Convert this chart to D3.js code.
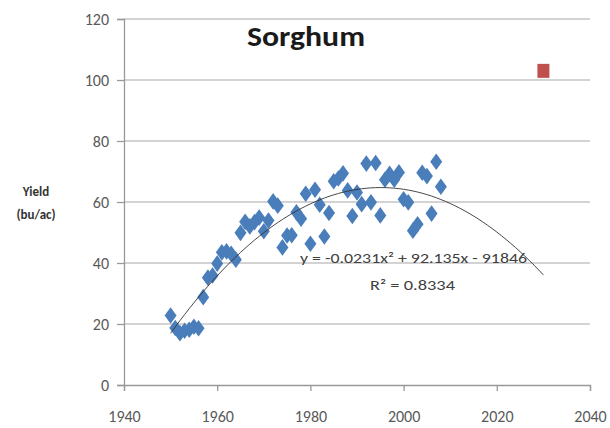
<!DOCTYPE html>
<html>
<head>
<meta charset="utf-8">
<script src="https://cdn.jsdelivr.net/npm/d3@7"></script>
<style>
  body { margin: 0; background: #fff; }
  text { font-family: Carlito, Lato, "Liberation Sans", Arial, sans-serif; }
</style>
</head>
<body>
<div id="chart"></div>
<script>
// Sorghum yields, bu/ac
var years = [1950,1951,1952,1953,1954,1955,1956,1957,1958,1959,
             1960,1961,1962,1963,1964,1965,1966,1967,1968,1969,
             1970,1971,1972,1973,1974,1975,1976,1977,1978,1979,
             1980,1981,1982,1983,1984,1985,1986,1987,1988,1989,
             1990,1991,1992,1993,1994,1995,1996,1997,1998,1999,
             2000,2001,2002,2003,2004,2005,2006,2007,2008];
var yields = [22.8,18.7,17.0,17.8,18.1,19.1,18.6,28.8,35.2,35.9,
              39.8,43.5,43.8,43.0,41.1,49.9,53.5,52.0,53.4,54.9,
              50.4,53.9,60.2,58.8,45.1,49.0,49.1,56.6,54.5,62.7,
              46.3,64.0,59.1,48.7,56.4,66.8,67.7,69.4,63.8,55.4,
              63.1,59.3,72.6,59.9,72.8,55.6,67.3,69.2,67.3,69.7,
              60.9,59.9,50.6,52.7,69.6,68.5,56.2,73.2,65.0];
var projYears = [2030];
var projYields = [103];
var xTicks = [1940,1960,1980,2000,2020,2040];
var yTicks = [0,20,40,60,80,100,120];

var w = 610, h = 428;
var x = d3.scaleLinear().domain([1940, 2040]).range([124, 590]);
var y = d3.scaleLinear().domain([0, 120]).range([385, 19]);

var svg = d3.select("#chart").append("svg")
    .attr("width", w).attr("height", h);

// gridlines
svg.append("g").selectAll("line")
    .data(yTicks.slice(1)).enter().append("line")
    .attr("x1", x(1940)).attr("x2", x(2040))
    .attr("y1", function(d) { return y(d); })
    .attr("y2", function(d) { return y(d); })
    .attr("stroke", "#c4c4c4").attr("stroke-width", 1.3);

// axes
var yAxis = d3.axisLeft(y).tickValues(yTicks).tickSize(7).tickPadding(8);
var xAxis = d3.axisBottom(x).tickValues(xTicks).tickSize(6).tickFormat(d3.format("d")).tickPadding(20);

var gy = svg.append("g").attr("transform", "translate(" + x(1940) + ",0)").call(yAxis);
var gx = svg.append("g").attr("transform", "translate(0," + y(0) + ")").call(xAxis);
[gx, gy].forEach(function(g) {
  g.select(".domain").attr("stroke", "#999").attr("stroke-width", 1.3);
  g.selectAll(".tick line").attr("stroke", "#999").attr("stroke-width", 1.3);
  g.selectAll(".tick text").attr("fill", "#595959")
    .style("font-family", "Carlito, Lato, 'Liberation Sans', Arial, sans-serif")
    .style("font-size", "16px");
});

// quadratic least-squares trend from the data (centered years)
var n = years.length, S = [0,0,0,0,0], T = [0,0,0];
years.forEach(function(yr, i) {
  var t = yr - 1980, v = yields[i];
  for (var k = 0; k < 5; k++) S[k] += Math.pow(t, k);
  for (var k = 0; k < 3; k++) T[k] += Math.pow(t, k) * v;
});
function solve3(A, b) {
  var M = A.map(function(r, i) { return r.concat([b[i]]); });
  for (var c = 0; c < 3; c++) {
    for (var r = c + 1; r < 3; r++) {
      var f = M[r][c] / M[c][c];
      for (var k = c; k < 4; k++) M[r][k] -= f * M[c][k];
    }
  }
  var s = [0,0,0];
  for (var r = 2; r >= 0; r--) {
    var acc = M[r][3];
    for (var k = r + 1; k < 3; k++) acc -= M[r][k] * s[k];
    s[r] = acc / M[r][r];
  }
  return s;
}
var coef = solve3([[S[0],S[1],S[2]],[S[1],S[2],S[3]],[S[2],S[3],S[4]]], T);
var trendX = d3.range(1950, 2030.01, 1);
var line = d3.line()
    .x(function(d) { return x(d); })
    .y(function(d) { var t = d - 1980; return y(coef[0] + coef[1]*t + coef[2]*t*t); })
    .curve(d3.curveMonotoneX);

// data diamonds
var diamond = d3.symbol().type(d3.symbolDiamond).size(80);
svg.append("g").selectAll("path")
    .data(years).enter().append("path")
    .attr("d", diamond)
    .attr("transform", function(d, i) { return "translate(" + x(d) + "," + y(yields[i]) + ") scale(1.25,1)"; })
    .attr("fill", "#4a7ebb");

svg.append("path").datum(trendX)
    .attr("d", line)
    .attr("fill", "none").attr("stroke", "#333").attr("stroke-width", 0.9);

// projected point
svg.append("g").selectAll("rect")
    .data(projYears).enter().append("rect")
    .attr("x", function(d) { return x(d) - 6; })
    .attr("y", function(d, i) { return y(projYields[i]) - 7; })
    .attr("width", 12).attr("height", 14)
    .attr("fill", "#c0504d");

// title
svg.append("text").attr("x", 247).attr("y", 46)
    .attr("textLength", 118).attr("lengthAdjust", "spacingAndGlyphs")
    .style("font-size", "28px").style("font-weight", "bold").attr("fill", "#1a1a1a")
    .text("Sorghum");

// y label
svg.append("text").attr("x", 36).attr("y", 196).attr("text-anchor", "middle")
    .style("font-size", "13px").style("font-weight", "bold").attr("fill", "#333")
    .text("Yield");
svg.append("text").attr("x", 36).attr("y", 219).attr("text-anchor", "middle")
    .style("font-size", "13px").style("font-weight", "bold").attr("fill", "#333")
    .text("(bu/ac)");

// equation
svg.append("text").attr("x", 300).attr("y", 263)
    .attr("textLength", 227).attr("lengthAdjust", "spacingAndGlyphs")
    .style("font-size", "14.5px").attr("fill", "#404040")
    .text("y = -0.0231x² + 92.135x - 91846");
svg.append("text").attr("x", 370).attr("y", 290)
    .attr("textLength", 85).attr("lengthAdjust", "spacingAndGlyphs")
    .style("font-size", "14.5px").attr("fill", "#404040")
    .text("R² = 0.8334");
</script>
</body>
</html>
